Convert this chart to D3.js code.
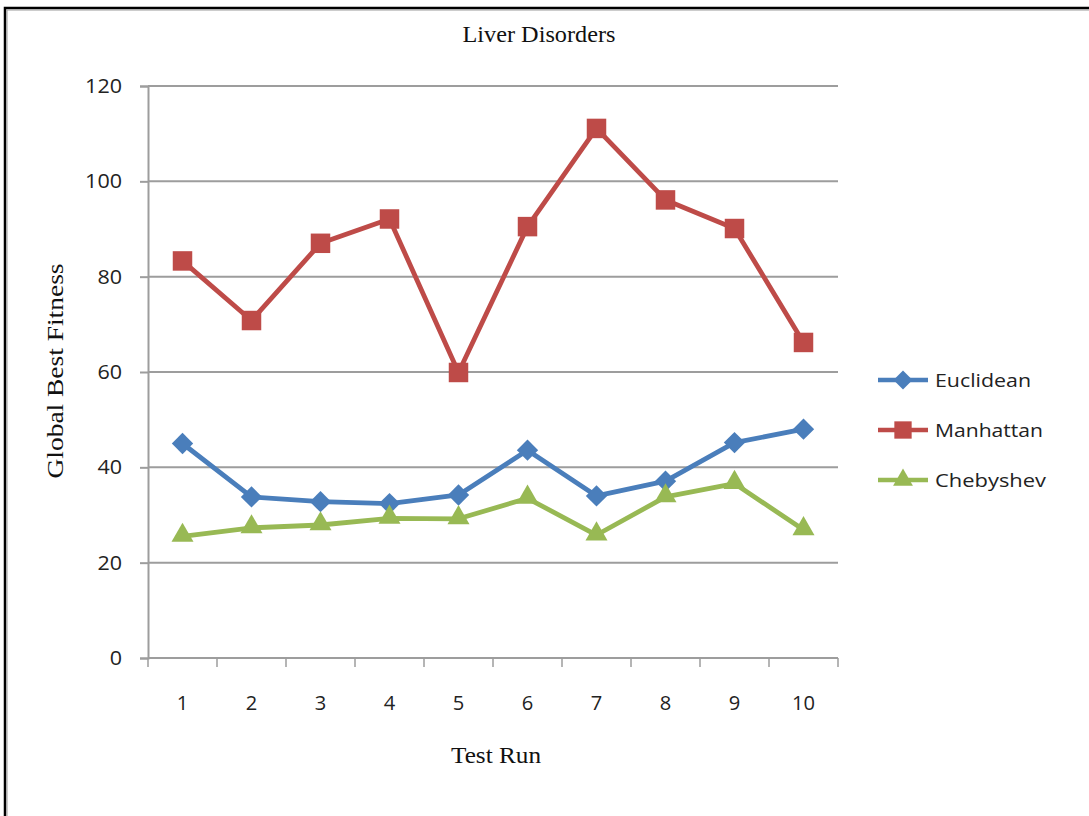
<!DOCTYPE html>
<html>
<head>
<meta charset="utf-8">
<script src="https://cdn.jsdelivr.net/npm/d3@7"></script>
<style>
  html, body { margin: 0; padding: 0; background: #fff; }
  svg { display: block; }
</style>
</head>
<body>
<svg id="chart" width="1089" height="816"></svg>
<script>
// Test runs and global best fitness per distance metric
const runs = ["1", "2", "3", "4", "5", "6", "7", "8", "9", "10"];
const euclidean = [45.0, 33.8, 32.8, 32.4, 34.2, 43.6, 34.0, 37.1, 45.2, 48.0];
const manhattan = [83.3, 70.8, 87.0, 92.1, 59.9, 90.5, 111.1, 96.1, 90.1, 66.2];
const chebyshev = [25.5, 27.3, 27.9, 29.3, 29.2, 33.5, 25.8, 33.8, 36.6, 26.9];
const yTicks = [0, 20, 40, 60, 80, 100, 120];
const seriesNames = ["Euclidean", "Manhattan", "Chebyshev"];

const series = [
  { name: seriesNames[0], values: euclidean, color: "#4a7ebb", symbol: d3.symbolDiamond2 },
  { name: seriesNames[1], values: manhattan, color: "#be4b48", symbol: d3.symbolSquare },
  { name: seriesNames[2], values: chebyshev, color: "#98b954", symbol: d3.symbolTriangle }
];

const svg = d3.select("#chart");
const W = 1089, H = 816;
const plot = { left: 148, right: 838, top: 86, bottom: 658 };
const sans = "'Open Sans', 'Liberation Sans', sans-serif";
const serif = "'Liberation Serif', 'DejaVu Serif', serif";

// outer frame
svg.append("rect").attr("x", 0).attr("y", 0).attr("width", W).attr("height", H).attr("fill", "#fff");
svg.append("path")
  .attr("d", `M5,${H + 5} L5,8 L${W + 5},8`)
  .attr("fill", "none").attr("stroke", "#000").attr("stroke-width", 2.5);
svg.append("path")
  .attr("d", `M7,${H + 5} L7,10 L${W + 5},10`)
  .attr("fill", "none").attr("stroke", "#999").attr("stroke-width", 1);

const x = d3.scaleBand().domain(runs).range([plot.left, plot.right]).paddingInner(0).paddingOuter(0);
const y = d3.scaleLinear().domain([0, 120]).range([plot.bottom, plot.top]);

// horizontal gridlines
svg.append("g").selectAll("line").data(yTicks.filter(t => t > 0)).join("line")
  .attr("x1", plot.left).attr("x2", plot.right)
  .attr("y1", d => y(d)).attr("y2", d => y(d))
  .attr("stroke", "#9d9d9d").attr("stroke-width", 2);

// y axis
const yAxis = svg.append("g").attr("transform", `translate(${plot.left},0)`)
  .call(d3.axisLeft(y).tickValues(yTicks).tickSize(8).tickPadding(18));
yAxis.attr("font-size", null).attr("font-family", null);
yAxis.select(".domain").attr("stroke", "#9d9d9d").attr("stroke-width", 2);
yAxis.selectAll(".tick line").attr("stroke", "#9d9d9d").attr("stroke-width", 2);
yAxis.selectAll(".tick text")
  .attr("font-family", sans)
  .attr("font-size", 20).attr("fill", "#222")
  .attr("textLength", d => String(d).length * 12.3)
  .attr("lengthAdjust", "spacingAndGlyphs");

// x axis with ticks on category boundaries
const xAxis = svg.append("g").attr("transform", `translate(0,${plot.bottom})`);
xAxis.append("line").attr("x1", plot.left).attr("x2", plot.right)
  .attr("y1", 0).attr("y2", 0).attr("stroke", "#9d9d9d").attr("stroke-width", 2);
const bounds = runs.map(r => x(r)).concat([x(runs[runs.length - 1]) + x.bandwidth()]);
xAxis.selectAll("line.tk").data(bounds).join("line").attr("class", "tk")
  .attr("x1", d => d).attr("x2", d => d).attr("y1", 0).attr("y2", 9)
  .attr("stroke", "#9d9d9d").attr("stroke-width", 1.5);
xAxis.selectAll("text").data(runs).join("text")
  .attr("x", d => x(d) + x.bandwidth() / 2).attr("y", 52)
  .attr("text-anchor", "middle")
  .attr("font-family", sans)
  .attr("font-size", 20).attr("fill", "#222")
  .attr("textLength", d => d.length * 11.5)
  .attr("lengthAdjust", "spacingAndGlyphs")
  .text(d => d);

// lines and markers
const line = d3.line().x((d, i) => x(runs[i]) + x.bandwidth() / 2).y(d => y(d));
series.forEach(s => {
  svg.append("path").datum(s.values)
    .attr("d", line).attr("fill", "none")
    .attr("stroke", s.color).attr("stroke-width", 4.8).attr("stroke-linejoin", "round");
  const size = s.symbol === d3.symbolSquare ? 380 : (s.symbol === d3.symbolTriangle ? 210 : 290);
  const yOff = s.symbol === d3.symbolTriangle ? -1 : 0;
  svg.append("g").selectAll("path").data(s.values).join("path")
    .attr("transform", (d, i) => `translate(${x(runs[i]) + x.bandwidth() / 2},${y(d) + yOff})`)
    .attr("d", d3.symbol().type(s.symbol).size(size)())
    .attr("fill", s.color);
});

// legend
const legend = svg.append("g");
series.forEach((s, i) => {
  const ly = 380 + i * 50;
  legend.append("line").attr("x1", 878).attr("x2", 928).attr("y1", ly).attr("y2", ly)
    .attr("stroke", s.color).attr("stroke-width", 4.5);
  const size = s.symbol === d3.symbolSquare ? 300 : (s.symbol === d3.symbolTriangle ? 170 : 230);
  legend.append("path")
    .attr("transform", `translate(903,${ly})`)
    .attr("d", d3.symbol().type(s.symbol).size(size)())
    .attr("fill", s.color);
  legend.append("text").attr("x", 935).attr("y", ly + 7)
    .attr("font-family", sans)
    .attr("font-size", 19).attr("fill", "#222")
    .attr("textLength", s.name === "Chebyshev" ? 111 : (s.name === "Manhattan" ? 108 : 96))
    .attr("lengthAdjust", "spacingAndGlyphs")
    .text(s.name);
});

// titles
svg.append("text").attr("x", 539).attr("y", 42).attr("text-anchor", "middle")
  .attr("font-family", serif)
  .attr("font-size", 23).attr("fill", "#111")
  .attr("textLength", 153).attr("lengthAdjust", "spacingAndGlyphs")
  .text("Liver Disorders");

svg.append("text").attr("x", 496).attr("y", 763).attr("text-anchor", "middle")
  .attr("font-family", serif)
  .attr("font-size", 23).attr("fill", "#111")
  .attr("textLength", 90).attr("lengthAdjust", "spacingAndGlyphs")
  .text("Test Run");

svg.append("text")
  .attr("transform", "translate(63,371) rotate(-90)")
  .attr("text-anchor", "middle")
  .attr("font-family", serif)
  .attr("font-size", 23).attr("fill", "#111")
  .attr("textLength", 215).attr("lengthAdjust", "spacingAndGlyphs")
  .text("Global Best Fitness");
</script>
</body>
</html>
